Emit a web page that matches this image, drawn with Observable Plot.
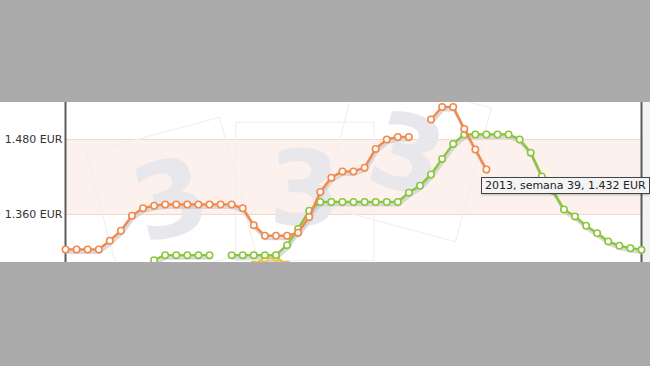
<!DOCTYPE html>
<html><head><meta charset="utf-8">
<script src="https://cdn.jsdelivr.net/npm/d3@7"></script>
<script src="https://cdn.jsdelivr.net/npm/@observablehq/plot@0.6"></script>
<style>
html,body{margin:0;padding:0;background:#ababab;width:650px;height:366px;overflow:hidden;font-family:"DejaVu Sans",Verdana,sans-serif;}
#wrap{position:absolute;left:0;top:102px;width:650px;height:160px;overflow:hidden;background:linear-gradient(to right,#fff 0,#fff 641px,#f3f3f3 641px);}
#tip{position:absolute;background:#f4f4f4;border:1px solid #444;font:11px "DejaVu Sans",Verdana,sans-serif;color:#222;padding:1px 3px 0 3px;height:14px;line-height:14px;white-space:nowrap;box-shadow:1px 1px 2px rgba(0,0,0,0.25);}
</style></head><body><div id="wrap"></div><script>
const weeks = d3.range(1, 54);
const serie2013 = [1.304,1.304,1.304,1.304,1.318,1.334,1.358,1.370,1.374,1.376,1.376,1.376,1.376,1.376,1.376,1.376,1.370,1.343,1.326,1.326,1.326,1.331,1.356,1.396,1.419,1.429,1.429,1.435,1.465,1.480,1.484,1.484,null,1.512,1.532,1.532,1.497,1.464,1.432,null,null,null,null,null,null,null,null,null,null,null,null,null,null];
const serieGreen = [null,null,null,null,null,null,null,1.255,1.287,1.295,1.295,1.295,1.295,1.295,null,1.295,1.295,1.295,1.295,1.295,1.311,1.337,1.366,1.380,1.380,1.380,1.380,1.380,1.380,1.380,1.380,1.395,1.406,1.424,1.449,1.473,1.488,1.488,1.488,1.488,1.488,1.480,1.459,1.421,1.398,1.368,1.357,1.342,1.330,1.317,1.310,1.306,1.3035];
const serieYellow = [null,null,null,null,null,null,null,null,null,null,null,null,null,null,null,null,1.262,1.280,1.290,1.291,1.280,1.262,null,null,null,null,null,null,null,null,null,null,null,null,null,null,null,null,null,null,null,null,null,null,null,null,null,null,null,null,null,null,null];
const yTicks = [1.360, 1.480];
const bandRange = [1.360, 1.480];
const yDomain = [1.2832, 1.5392];
const tooltip = {year: 2013, week: 39, value: 1.432};
const watermarks = [
  {week: 10.5, value: 1.380, rot: -15},
  {week: 22.6, value: 1.397, rot: 0},
  {week: 31.8, value: 1.452, rot: 15}
];

const series = [
  {name: "amarillo", color: "#f2c23a", values: serieYellow},
  {name: "verde", color: "#8cc63e", values: serieGreen},
  {name: "2013", color: "#f08a4e", values: serie2013}
];

const marks = [];
marks.push(Plot.rect([bandRange], {x1: () => weeks[0], x2: () => weeks[weeks.length - 1], y1: d => d[0], y2: d => d[1], fill: "#fdf1ed"}));
marks.push(Plot.ruleY(yTicks, {stroke: "#f6d6c6", strokeWidth: 1}));
marks.push(Plot.dot(watermarks, {x: "week", y: "value", symbol: "square", r: 78, rotate: "rot", fill: "none", stroke: "#f0f0f0", strokeWidth: 1.2}));
marks.push(Plot.text(watermarks, {x: "week", y: "value", text: () => "3", rotate: "rot", fontSize: 104, fontWeight: "bold", fill: "#e8e8ec", fontFamily: "DejaVu Sans"}));
marks.push(Plot.axisY(yTicks, {tickSize: 0, tickPadding: 3, tickFormat: d => d.toFixed(3) + " EUR", fontSize: 11, fill: "#333", label: null}));
marks.push(Plot.ruleX([weeks[0], weeks[weeks.length - 1]], {stroke: "#5a5a5a", strokeWidth: 2}));
for (const s of series) {
  const rows = weeks.map((w, i) => ({week: w, value: s.values[i]}));
  marks.push(Plot.line(rows, {x: "week", y: "value", stroke: "#c9cad4", strokeOpacity: 0.7, strokeWidth: 3, dx: 1, dy: 3}));
}
for (const s of series) {
  const rows = weeks.map((w, i) => ({week: w, value: s.values[i]}));
  marks.push(Plot.line(rows, {x: "week", y: "value", stroke: s.color, strokeWidth: 2.5}));
  marks.push(Plot.dot(rows.filter(d => d.value != null), {x: "week", y: "value", r: 3.2, fill: "white", stroke: s.color, strokeWidth: 1.6}));
}

const chart = Plot.plot({
  width: 650, height: 160,
  marginLeft: 65, marginRight: 9, marginTop: 0, marginBottom: 0,
  style: {background: "transparent", fontFamily: "DejaVu Sans, Verdana, sans-serif", overflow: "visible"},
  x: {domain: [weeks[0], weeks[weeks.length - 1]], axis: null},
  y: {domain: yDomain, axis: null},
  marks
});
const wrap = document.getElementById("wrap");
wrap.appendChild(chart);
const px = chart.scale("x").apply(tooltip.week);
const py = chart.scale("y").apply(tooltip.value);
const tip = document.createElement("div");
tip.id = "tip";
tip.textContent = `${tooltip.year}, semana ${tooltip.week}, ${tooltip.value.toFixed(3)} EUR`;
tip.style.left = (px - 5) + "px";
tip.style.top = (py + 8) + "px";
wrap.appendChild(tip);
</script></body></html>
